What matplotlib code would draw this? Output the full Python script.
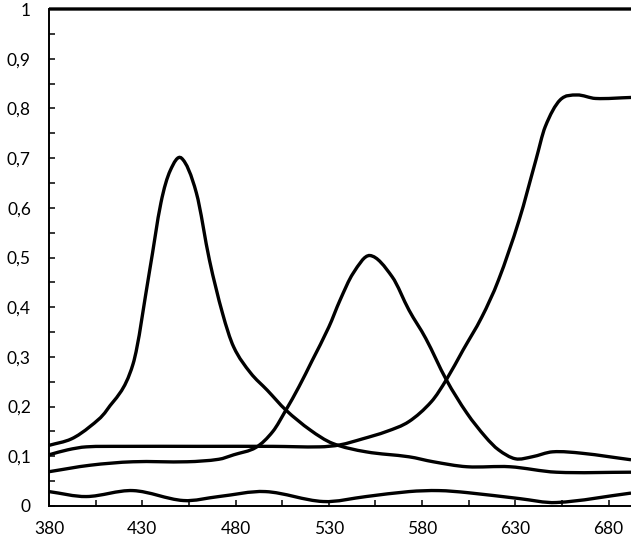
import matplotlib
matplotlib.use('Agg')
import matplotlib.pyplot as plt
import numpy as np
from matplotlib.path import Path
from matplotlib.patches import PathPatch

plt.rcParams['font.family'] = ['Lato', 'DejaVu Sans']

# 读图得到的数据 (波长 nm, 值)
blue_x = [380, 392, 402, 411, 425, 434, 440, 445, 451, 459, 466, 473, 479, 488, 497, 507, 520, 532, 550, 573, 586, 604, 627, 652, 692]
blue_y = [0.122, 0.135, 0.16, 0.193, 0.285, 0.475, 0.61, 0.675, 0.70, 0.63, 0.495, 0.388, 0.32, 0.268, 0.233, 0.193, 0.153, 0.126, 0.109, 0.099, 0.089, 0.079, 0.079, 0.068, 0.068]

red_x = [380, 390, 400, 420, 460, 500, 525, 536, 548, 561, 573, 585, 593, 602, 612, 621, 632, 641, 646, 654, 663, 673, 692]
red_y = [0.103, 0.113, 0.119, 0.12, 0.12, 0.12, 0.119, 0.123, 0.135, 0.15, 0.17, 0.21, 0.254, 0.314, 0.38, 0.455, 0.575, 0.696, 0.763, 0.817, 0.827, 0.82, 0.822]

green_x = [380, 402, 425, 454, 471, 479, 491, 500, 507, 514, 521, 530, 536, 543, 552, 564, 573, 582, 593, 604, 614, 621, 630, 639, 650, 666, 692]
green_y = [0.069, 0.082, 0.089, 0.089, 0.094, 0.103, 0.118, 0.15, 0.193, 0.24, 0.292, 0.36, 0.414, 0.468, 0.504, 0.461, 0.394, 0.337, 0.254, 0.187, 0.139, 0.113, 0.095, 0.099, 0.109, 0.106, 0.093]

low_x = [380, 400, 425, 452, 471, 496, 527, 550, 573, 589, 604, 632, 652, 692]
low_y = [0.029, 0.019, 0.031, 0.011, 0.019, 0.029, 0.009, 0.019, 0.029, 0.031, 0.027, 0.015, 0.007, 0.026]

top_x = [380, 692]
top_y = [1.0, 1.0]

series = [(top_x, top_y), (blue_x, blue_y), (red_x, red_y), (green_x, green_y), (low_x, low_y)]

ytick_vals = [0, 0.1, 0.2, 0.3, 0.4, 0.5, 0.6, 0.7, 0.8, 0.9, 1.0]
ytick_labels = ['0', '0,1', '0,2', '0,3', '0,4', '0,5', '0,6', '0,7', '0,8', '0,9', '1']
xtick_vals = [380, 430, 480, 530, 580, 630, 680]


def smooth_path(x, y):
    # 平滑线: 按 x 的 Hermite 曲线, 转成三次贝塞尔
    x = np.asarray(x, float)
    y = np.asarray(y, float)
    n = len(x)
    m = np.zeros(n)
    for i in range(n):
        a = max(i - 1, 0)
        b = min(i + 1, n - 1)
        m[i] = (y[b] - y[a]) / (x[b] - x[a])
    verts = [(x[0], y[0])]
    codes = [Path.MOVETO]
    for i in range(n - 1):
        h = x[i + 1] - x[i]
        verts += [(x[i] + h / 3, y[i] + m[i] * h / 3),
                  (x[i + 1] - h / 3, y[i + 1] - m[i + 1] * h / 3),
                  (x[i + 1], y[i + 1])]
        codes += [Path.CURVE4] * 3
    return Path(verts, codes)


fig = plt.figure(figsize=(6.31, 5.40), dpi=100)
ax = fig.add_axes([49 / 631, 34 / 540, 582 / 631, 497 / 540])

for sx, sy in series:
    patch = PathPatch(smooth_path(sx, sy), facecolor='none', edgecolor='black',
                      lw=2.4, capstyle='butt', clip_on=False)
    ax.add_patch(patch)

ax.set_xlim(380, 692)
ax.set_ylim(0, 1)

ax.spines['top'].set_visible(False)
ax.spines['right'].set_visible(False)
ax.spines['left'].set_linewidth(1.4)
ax.spines['bottom'].set_linewidth(1.4)

ax.set_xticks(xtick_vals)
ax.set_xticks(np.arange(380, 693, 25), minor=True)
ax.set_yticks(ytick_vals)
ax.set_yticklabels(ytick_labels)
ax.set_yticks(np.arange(0, 1.001, 0.05), minor=True)

ax.tick_params(which='both', direction='in', length=4.5, width=1.1, labelsize=12.5, colors='black')
ax.tick_params(axis='y', which='major', pad=13)
ax.tick_params(axis='x', which='major', pad=11)

fig.savefig('out.png', dpi=100)
